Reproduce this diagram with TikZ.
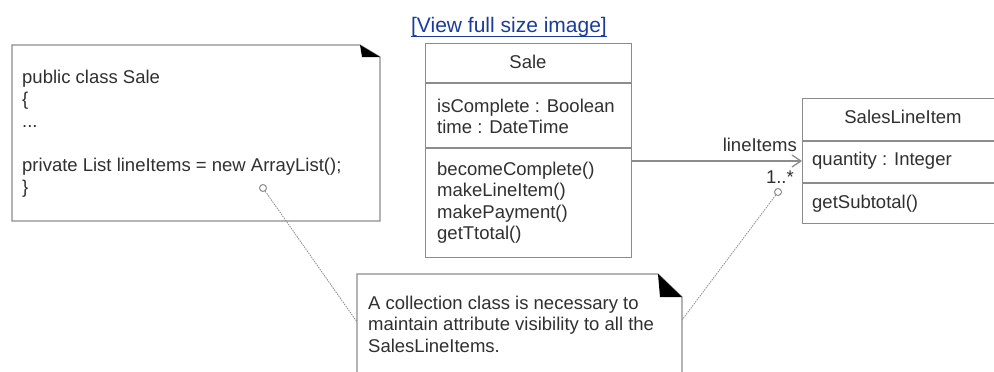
\documentclass[tikz,border=0pt]{standalone}
\usepackage{fontspec}
\setmainfont{Liberation Sans}
\usetikzlibrary{arrows.meta}
\definecolor{ink}{HTML}{303030}
\definecolor{edge}{HTML}{8C8C8C}
\definecolor{linkblue}{HTML}{1A3C9C}
\begin{document}
\begin{tikzpicture}[x=1pt,y=-1pt,
  txt/.style={inner sep=0pt, text=ink, font=\fontsize{18.5}{21.5}\selectfont},
  boxline/.style={draw=edge, line width=1.2pt},
  classbox/.style={draw=edge, line width=1.2pt, inner sep=0pt, anchor=north west},
  anchorline/.style={draw=edge, line width=0.8pt, dash pattern=on 1.5pt off 1pt},
  anchorcirc/.style={draw=edge, line width=1pt, fill=white, circle, minimum size=7pt, inner sep=0pt},
  fold/.style={fill=black}]
\useasboundingbox[fill=white] (0,0) rectangle (994,372);

% link
\node[anchor=base, inner sep=0pt, text=linkblue, font=\fontsize{21}{24}\selectfont] (link) at (509,32) {[View full size image]};
\draw[linkblue, line width=1pt] ([yshift=-4pt]link.base west) -- ([yshift=-4pt]link.base east);

% left note
\coordinate (nLtl) at (12,45);
\coordinate (nLbr) at (380,221);
\draw[boxline] (nLtl) -- (360,45) -- (380,57) -- (nLbr) -- (12,221) -- cycle;
\fill[fold] (360,45) -- (380,57) -- (362,57) -- cycle;
\node[txt, anchor=base west] (code) at (22,83) {\vtop{\baselineskip=22pt
  \hbox{public class Sale}\hbox{\{}\hbox{...}\hbox{}\hbox{private List lineItems = new ArrayList();}\hbox{\}}}};

% Sale class
\node[classbox, minimum width=206pt, minimum height=214pt] (sale) at (425,43) {};
\draw[boxline] (sale.west |- 0,83) -- (sale.east |- 0,83);
\draw[boxline] (sale.west |- 0,148) -- (sale.east |- 0,148);
\node[txt, anchor=base] (saleName) at (528,68) {Sale};
\node[txt, anchor=base west] (saleAttr) at (437,112) {\vtop{\hbox{isComplete : Boolean}\hbox{time : DateTime}}};
\node[txt, anchor=base west] (saleOps) at (437,175) {\vtop{\hbox{becomeComplete()}\hbox{makeLineItem()}\hbox{makePayment()}\hbox{getTtotal()}}};

% SalesLineItem class
\node[classbox, minimum width=202pt, minimum height=125pt] (sli) at (802,98) {};
\draw[boxline] (sli.west |- 0,141) -- (sli.east |- 0,141);
\draw[boxline] (sli.west |- 0,183) -- (sli.east |- 0,183);
\node[txt, anchor=base] (sliName) at (903,123) {SalesLineItem};
\node[txt, anchor=base west] (sliAttr) at (812,165) {quantity : Integer};
\node[txt, anchor=base west] (sliOps) at (812,208) {getSubtotal()};

% association
\draw[boxline, -{Straight Barb[length=9pt,width=12pt]}] (sale.east |- 0,161) -- (sli.west |- 0,161);
\node[txt, anchor=base east] (role) at (797,151) {lineItems};
\node[txt, anchor=base east] (mult) at (794,183) {1..*};

% bottom note
\coordinate (nBl) at (357,274);
\coordinate (nBr) at (682,297);
\draw[boxline] (357,373) -- (nBl) -- (658,274) -- (nBr) -- (682,373);
\fill[fold] (658,274) -- (682,297) -- (660,297) -- cycle;
\node[txt, anchor=base west] (comment) at (368,309) {\vtop{\hbox{A collection class is necessary to}\hbox{maintain attribute visibility to all the}\hbox{SalesLineItems.}}};

% anchors
\node[anchorcirc] (c1) at (263,188) {};
\node[anchorcirc] (c2) at (778,192) {};
\coordinate (e1) at (357,322);
\coordinate (e2) at (682,320);
\draw[anchorline] (c1) -- (e1);
\draw[anchorline] (c2) -- (e2);
\end{tikzpicture}
\end{document}
